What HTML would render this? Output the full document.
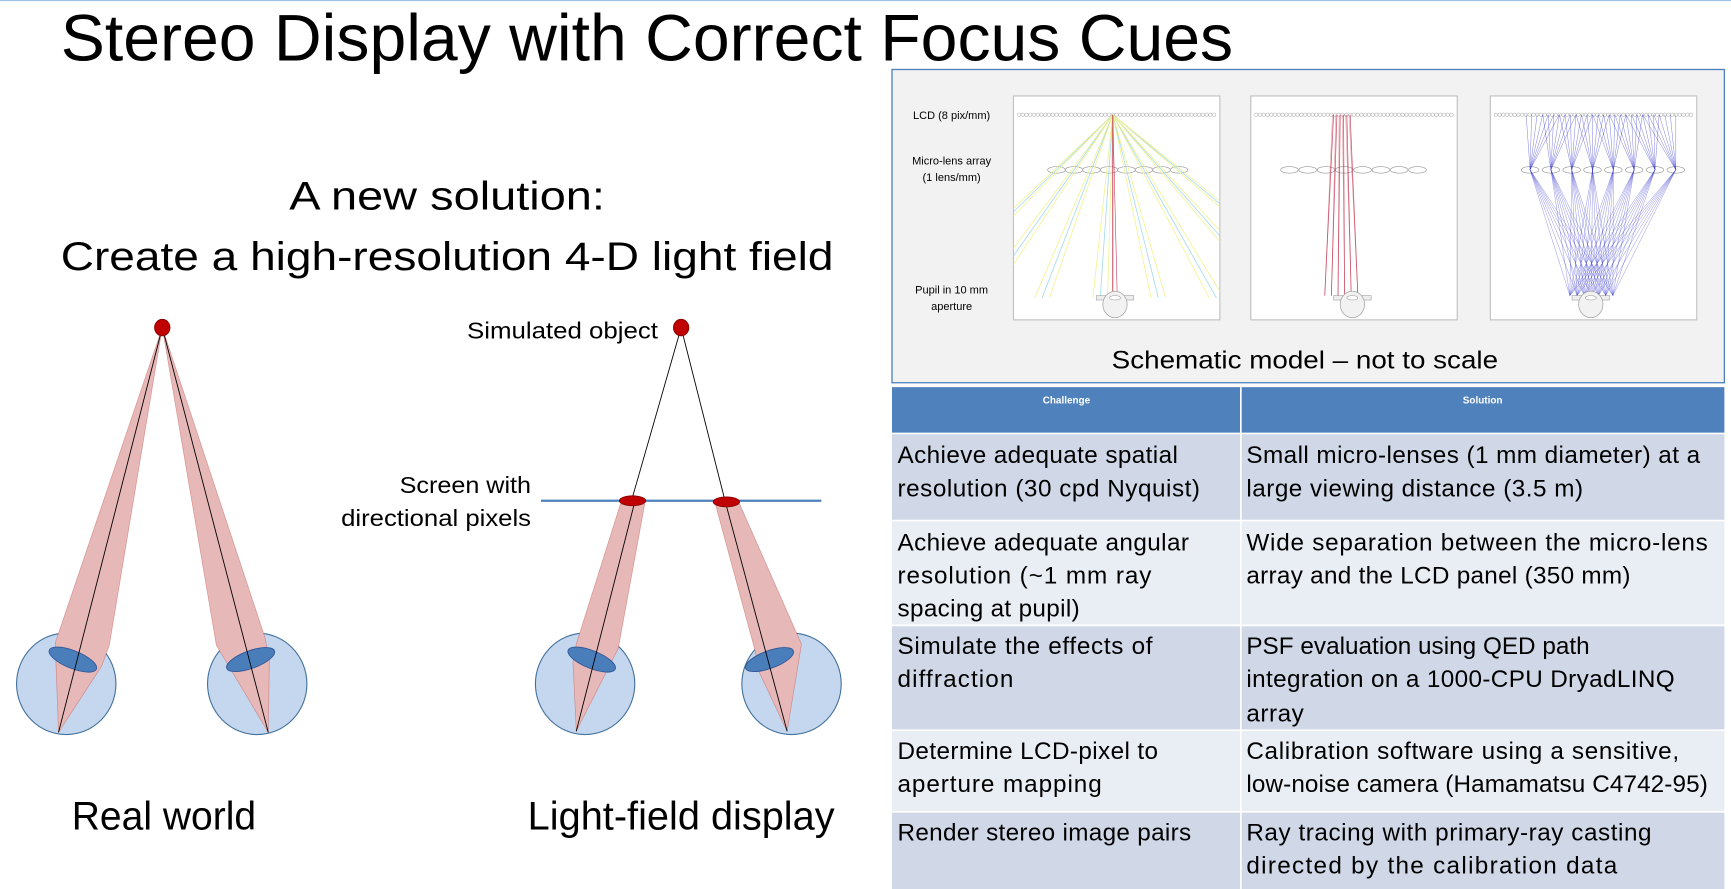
<!DOCTYPE html>
<html><head><meta charset="utf-8"><style>
html,body{margin:0;padding:0;background:#fff;}
svg{display:block;}
text{font-family:"Liberation Sans",sans-serif;}
</style></head><body>
<svg id="s" width="1731" height="889" viewBox="0 0 1568 806" preserveAspectRatio="none" xmlns="http://www.w3.org/2000/svg">
<rect width="1568" height="806" fill="#fff"/>
<line x1="0" y1="0.5" x2="1568" y2="0.5" stroke="#9dc3e6" stroke-width="1"/>
<text x="55" y="55" font-size="60" fill="#000" textLength="1062" lengthAdjust="spacingAndGlyphs">Stereo Display with Correct Focus Cues</text>
<text x="405" y="190" font-size="36" text-anchor="middle" textLength="286" lengthAdjust="spacingAndGlyphs">A new solution:</text>
<text x="405" y="245" font-size="36" text-anchor="middle" textLength="700" lengthAdjust="spacingAndGlyphs">Create a high-resolution 4-D light field</text>

<g stroke="#41719c" stroke-width="1">
<ellipse cx="60" cy="620" rx="45" ry="46" fill="#c5d7ee"/>
<ellipse cx="233" cy="620" rx="45" ry="46" fill="#c5d7ee"/>
<ellipse cx="530" cy="620" rx="45" ry="46" fill="#c5d7ee"/>
<ellipse cx="717" cy="620" rx="45" ry="46" fill="#c5d7ee"/>
</g>
<g fill="#e6b8b7" stroke="#c0504d" stroke-width="0.6" stroke-opacity="0.5">
<polygon points="147,297 50,583 53,664 92,604 99,585"/>
<polygon points="147,297 196,585 243,664 244,598 240,578"/>
<polygon points="562,457 584,457 560,588 522,663 519,600 522,584"/>
<polygon points="648,457 670,457 726,584 713,663 687,608 684,590"/>
</g>
<g fill="#4a7ebb" stroke="#2f5597" stroke-width="0.8">
<ellipse cx="66" cy="598" rx="23" ry="8" transform="rotate(22 66 598)"/>
<ellipse cx="227" cy="598" rx="23" ry="8" transform="rotate(-20 227 598)"/>
<ellipse cx="536" cy="598" rx="23" ry="8" transform="rotate(22 536 598)"/>
<ellipse cx="697" cy="598" rx="23" ry="8" transform="rotate(-20 697 598)"/>
</g>
<g stroke="#000" stroke-width="0.8">
<line x1="147" y1="297" x2="53" y2="664"/>
<line x1="147" y1="297" x2="243" y2="664"/>
<line x1="617" y1="297" x2="572" y2="454"/>
<line x1="617" y1="297" x2="657" y2="455"/>
<line x1="575" y1="455" x2="522" y2="663"/>
<line x1="657" y1="455" x2="713" y2="663"/>
</g>
<line x1="490" y1="454" x2="744" y2="454" stroke="#4f81bd" stroke-width="2"/>
<g fill="#c00000" stroke="#7f0000" stroke-width="0.7">
<ellipse cx="147" cy="297" rx="7" ry="7.5"/>
<ellipse cx="617" cy="297" rx="7" ry="7.5"/>
<ellipse cx="573" cy="454" rx="12" ry="4.5"/>
<ellipse cx="658" cy="455" rx="12" ry="4.5"/>
</g>
<text x="596" y="307" font-size="21" text-anchor="end" textLength="173" lengthAdjust="spacingAndGlyphs">Simulated object</text>
<text x="481" y="447" font-size="21" text-anchor="end" textLength="119" lengthAdjust="spacingAndGlyphs">Screen with</text>
<text x="481" y="477" font-size="21" text-anchor="end" textLength="172" lengthAdjust="spacingAndGlyphs">directional pixels</text>
<text x="65" y="752" font-size="36" textLength="167" lengthAdjust="spacingAndGlyphs">Real world</text>
<text x="478" y="752" font-size="36" textLength="278" lengthAdjust="spacingAndGlyphs">Light-field display</text>

<rect x="808" y="63" width="754" height="284" fill="#f2f2f2" stroke="#4f81bd" stroke-width="1.2"/>
<g fill="#fff" stroke="#bfbfbf" stroke-width="1">
<rect x="918" y="87" width="187" height="203"/>
<rect x="1133" y="87" width="187" height="203"/>
<rect x="1350" y="87" width="187" height="203"/>
</g>
<g font-size="10" text-anchor="middle" fill="#000">
<text x="862" y="108">LCD (8 pix/mm)</text>
<text x="862" y="149">Micro-lens array</text>
<text x="862" y="164">(1 lens/mm)</text>
<text x="862" y="266">Pupil in 10 mm</text>
<text x="862" y="281">aperture</text>
</g>
<g id="rays"></g>
<text x="1182" y="334" font-size="23" text-anchor="middle" textLength="350" lengthAdjust="spacingAndGlyphs">Schematic model – not to scale</text>

<rect x="808" y="351" width="754" height="42" fill="#4f81bd"/>
<rect x="808" y="393" width="754" height="79" fill="#d0d8e8"/>
<rect x="808" y="472" width="754" height="95" fill="#e9edf4"/>
<rect x="808" y="567" width="754" height="95" fill="#d0d8e8"/>
<rect x="808" y="662" width="754" height="74" fill="#e9edf4"/>
<rect x="808" y="736" width="754" height="70" fill="#d0d8e8"/>
<g stroke="#fff" stroke-width="1.5">
<line x1="1124" y1="351" x2="1124" y2="806"/>
<line x1="808" y1="393" x2="1562" y2="393"/>
<line x1="808" y1="472" x2="1562" y2="472"/>
<line x1="808" y1="567" x2="1562" y2="567"/>
<line x1="808" y1="662" x2="1562" y2="662"/>
<line x1="808" y1="736" x2="1562" y2="736"/>
</g>
<text x="966" y="366" font-size="9" font-weight="bold" fill="#fff" text-anchor="middle">Challenge</text>
<text x="1343" y="366" font-size="9" font-weight="bold" fill="#fff" text-anchor="middle">Solution</text>
<g font-size="22" fill="#000" lengthAdjust="spacingAndGlyphs">
<text x="813" y="420" textLength="254">Achieve adequate spatial</text>
<text x="813" y="450" textLength="274">resolution (30 cpd Nyquist)</text>
<text x="813" y="499" textLength="264">Achieve adequate angular</text>
<text x="813" y="529" textLength="230">resolution  (~1 mm ray</text>
<text x="813" y="559" textLength="165">spacing at pupil)</text>
<text x="813" y="593" textLength="231">Simulate the effects of</text>
<text x="813" y="623" textLength="105">diffraction</text>
<text x="813" y="688" textLength="236">Determine LCD-pixel to</text>
<text x="813" y="718" textLength="185">aperture mapping</text>
<text x="813" y="762" textLength="266">Render stereo image pairs</text>
<text x="1129" y="420" textLength="411">Small micro-lenses (1 mm diameter) at a</text>
<text x="1129" y="450" textLength="305">large viewing distance (3.5 m)</text>
<text x="1129" y="499" textLength="418">Wide separation between the micro-lens</text>
<text x="1129" y="529" textLength="348">array and the LCD panel (350 mm)</text>
<text x="1129" y="593" textLength="311">PSF evaluation using QED path</text>
<text x="1129" y="623" textLength="388">integration on a 1000-CPU DryadLINQ</text>
<text x="1129" y="654" textLength="52">array</text>
<text x="1129" y="688" textLength="392">Calibration software using a sensitive,</text>
<text x="1129" y="718" textLength="418">low-noise camera (Hamamatsu C4742-95)</text>
<text x="1129" y="762" textLength="367">Ray tracing with primary-ray casting</text>
<text x="1129" y="792" textLength="336">directed by the calibration data</text>
</g>
</svg>
<script>
(function(){
var g=document.getElementById('rays'),h='';
function L(a,b,c,d,col,w,o){h+='<line x1="'+a+'" y1="'+b+'" x2="'+c+'" y2="'+d+'" stroke="'+col+'" stroke-width="'+(w||0.5)+'" stroke-opacity="'+(o||1)+'"/>';}
var px=[920,1135,1352];
px.forEach(function(x0,k){
 for(var x=x0+3;x<x0+183;x+=3.4)h+='<circle cx="'+x+'" cy="104" r="1.6" fill="none" stroke="#999" stroke-width="0.4"/>';
 var ls=[[957,1068],[1168,1284],[1386,1518]][k];
 for(var i=0;i<8;i++){var lx=ls[0]+i*(ls[1]-ls[0])/7;h+='<ellipse cx="'+lx+'" cy="154" rx="8" ry="3" fill="none" stroke="#999" stroke-width="0.6"/>';}
});
var sx=1008;
for(var i=0;i<8;i++){var lx=957+i*111/7;
 for(var j=-1;j<=1;j++){var ex=sx+(lx-sx+j*2)*166/50;var ey=270;
  if(ex<918){ey=104+(918-sx)/((lx-sx+j*2)/50);ex=918;} if(ex>1105){ey=104+(1105-sx)/((lx-sx+j*2)/50);ex=1105;}
  L(sx,104,ex,ey,j==0?'#9fd8ef':'#f2f28a',0.7);}
}
L(sx,104,1008,268,'#c0304a',0.8);L(sx,104,1012,268,'#c0304a',0.5);
for(var i=0;i<6;i++){L(1208+i*3,104,1200+i*6,268,'#c0304a',0.7,0.8);L(1222-i*3,104,1230-i*6,268,'#c0304a',0.5,0.5);}
for(var i=0;i<8;i++){var lx=1386+i*132/7;
 for(var j=-3;j<=3;j++){var sx3=lx+j*5-((lx-1443)*0.2);var tx=1422+(j+3)*6.5;L(sx3,104,lx,154,'#3333cc',0.4,0.7);L(lx,154,tx,268,'#3333cc',0.4,0.6);}
}
[1010,1225,1441].forEach(function(ex){
 h+='<rect x="'+(ex-17)+'" y="268" width="34" height="4" fill="#eee" stroke="#999" stroke-width="0.5"/>';
 h+='<ellipse cx="'+ex+'" cy="276" rx="11" ry="12" fill="#f2f2f2" stroke="#999" stroke-width="0.6"/>';
 h+='<ellipse cx="'+ex+'" cy="270" rx="5" ry="2" fill="#fff" stroke="#999" stroke-width="0.5"/>';
});
g.innerHTML=h;
})();
</script>
</body></html>
